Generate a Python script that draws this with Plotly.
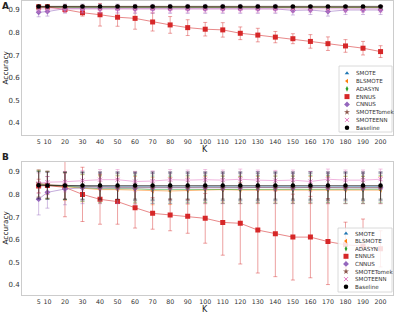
import plotly.graph_objects as go

K = [5, 10, 20, 30, 40, 50, 60, 70, 80, 90, 100, 110, 120, 130, 140, 150, 160, 170, 180, 190, 200]
K_TICKS = [5, 10, 20, 30, 40, 50, 60, 70, 80, 90, 100, 110, 120, 130, 140, 150, 160, 170, 180, 190, 200]
Y_TICKS = [0.4, 0.5, 0.6, 0.7, 0.8, 0.9]

METHODS = ["SMOTE", "BLSMOTE", "ADASYN", "ENNUS", "CNNUS", "SMOTETomek", "SMOTEENN", "Baseline"]

# ---- Panel A ----
SMOTE_A = [0.912, 0.913, 0.913, 0.912, 0.912, 0.912, 0.911, 0.911, 0.911, 0.911, 0.911,
           0.911, 0.910, 0.910, 0.910, 0.910, 0.910, 0.910, 0.910, 0.910, 0.910]
BLSMOTE_A = [0.914, 0.914, 0.914, 0.913, 0.913, 0.913, 0.913, 0.912, 0.912, 0.912, 0.912,
             0.912, 0.912, 0.912, 0.912, 0.912, 0.912, 0.912, 0.912, 0.912, 0.912]
ADASYN_A = [0.912, 0.912, 0.912, 0.911, 0.911, 0.911, 0.911, 0.911, 0.911, 0.911, 0.911,
            0.911, 0.911, 0.911, 0.911, 0.911, 0.911, 0.911, 0.911, 0.911, 0.911]
ENNUS_A = [0.914, 0.914, 0.902, 0.888, 0.879, 0.868, 0.863, 0.847, 0.834, 0.822, 0.815,
           0.812, 0.797, 0.789, 0.780, 0.773, 0.761, 0.751, 0.741, 0.731, 0.716]
CNNUS_A = [0.890, 0.893, 0.906, 0.906, 0.906, 0.906, 0.905, 0.905, 0.905, 0.905, 0.905,
           0.905, 0.905, 0.905, 0.905, 0.898, 0.900, 0.893, 0.900, 0.900, 0.900]
SMOTETOMEK_A = [0.913, 0.913, 0.913, 0.912, 0.912, 0.912, 0.912, 0.912, 0.912, 0.912, 0.912,
                0.912, 0.912, 0.912, 0.912, 0.912, 0.912, 0.912, 0.912, 0.912, 0.912]
SMOTEENN_A = [0.905, 0.905, 0.906, 0.905, 0.905, 0.905, 0.905, 0.905, 0.905, 0.905, 0.905,
              0.905, 0.905, 0.905, 0.905, 0.905, 0.905, 0.905, 0.905, 0.905, 0.905]
BASELINE_A = [0.916, 0.916, 0.916, 0.916, 0.916, 0.916, 0.916, 0.916, 0.916, 0.916, 0.916,
              0.916, 0.916, 0.916, 0.916, 0.916, 0.916, 0.916, 0.916, 0.916, 0.916]

ENNUS_A_ERR = [0.006, 0.008, 0.012, 0.015, 0.05, 0.04, 0.048, 0.04, 0.037, 0.035, 0.03,
               0.032, 0.028, 0.03, 0.025, 0.022, 0.03, 0.03, 0.028, 0.03, 0.026]
CNNUS_A_ERR = [0.02] * 21
SMOTEENN_A_ERR = [0.015] * 21
OTHER_A_ERR = [0.008] * 21
BASELINE_A_ERR = [0.004] * 21

# ---- Panel B ----
SMOTE_B = [0.845, 0.840, 0.838, 0.836, 0.835, 0.835, 0.835, 0.834, 0.835, 0.834, 0.835,
           0.834, 0.835, 0.834, 0.835, 0.834, 0.835, 0.834, 0.835, 0.834, 0.835]
BLSMOTE_B = [0.848, 0.842, 0.835, 0.828, 0.822, 0.822, 0.820, 0.815, 0.816, 0.818, 0.820,
             0.822, 0.820, 0.820, 0.822, 0.822, 0.820, 0.820, 0.820, 0.820, 0.820]
ADASYN_B = [0.845, 0.842, 0.838, 0.830, 0.826, 0.826, 0.826, 0.822, 0.822, 0.824, 0.825,
            0.822, 0.822, 0.824, 0.822, 0.822, 0.824, 0.825, 0.822, 0.822, 0.824]
ENNUS_B = [0.838, 0.840, 0.832, 0.801, 0.779, 0.769, 0.742, 0.717, 0.710, 0.704, 0.695,
           0.677, 0.673, 0.643, 0.627, 0.612, 0.612, 0.592, 0.578, 0.572, 0.560]
CNNUS_B = [0.780, 0.810, 0.825, 0.830, 0.830, 0.830, 0.828, 0.830, 0.830, 0.830, 0.830,
           0.830, 0.830, 0.832, 0.830, 0.830, 0.832, 0.830, 0.830, 0.830, 0.830]
SMOTETOMEK_B = [0.850, 0.845, 0.840, 0.836, 0.834, 0.833, 0.833, 0.832, 0.832, 0.832, 0.832,
                0.832, 0.832, 0.832, 0.832, 0.832, 0.832, 0.832, 0.832, 0.832, 0.832]
SMOTEENN_B = [0.850, 0.855, 0.857, 0.862, 0.866, 0.866, 0.858, 0.860, 0.866, 0.864, 0.866,
              0.864, 0.868, 0.864, 0.862, 0.864, 0.858, 0.868, 0.864, 0.864, 0.868]
BASELINE_B = [0.841, 0.840, 0.840, 0.840, 0.840, 0.840, 0.840, 0.840, 0.840, 0.840, 0.840,
              0.840, 0.840, 0.840, 0.840, 0.840, 0.840, 0.840, 0.840, 0.840, 0.840]

ENNUS_B_ERR = [0.03, 0.04, 0.13, 0.12, 0.11, 0.10, 0.09, 0.07, 0.07, 0.075, 0.11,
               0.145, 0.18, 0.19, 0.19, 0.19, 0.18, 0.19, 0.10, 0.12, 0.08]
CNNUS_B_ERR = [0.07] * 21
SMOTEENN_B_ERR = [0.045] * 21
OTHER_B_ERR = [0.06] * 21
BASELINE_B_ERR = [0.06] * 21

DATA_A = [SMOTE_A, BLSMOTE_A, ADASYN_A, ENNUS_A, CNNUS_A, SMOTETOMEK_A, SMOTEENN_A, BASELINE_A]
ERR_A = [OTHER_A_ERR, OTHER_A_ERR, OTHER_A_ERR, ENNUS_A_ERR, CNNUS_A_ERR, OTHER_A_ERR, SMOTEENN_A_ERR, BASELINE_A_ERR]
DATA_B = [SMOTE_B, BLSMOTE_B, ADASYN_B, ENNUS_B, CNNUS_B, SMOTETOMEK_B, SMOTEENN_B, BASELINE_B]
ERR_B = [OTHER_B_ERR, OTHER_B_ERR, OTHER_B_ERR, ENNUS_B_ERR, CNNUS_B_ERR, OTHER_B_ERR, SMOTEENN_B_ERR, BASELINE_B_ERR]

# ---- styles ----
COLORS = [(31, 119, 180), (255, 127, 14), (44, 160, 44), (214, 39, 40),
          (148, 103, 189), (140, 86, 75), (227, 119, 194), (0, 0, 0)]
SYMBOLS = ["triangle-up", "triangle-left", "diamond-tall", "square", "diamond",
           "star", "x-thin-open", "circle"]
SIZES = [4, 4, 4, 5, 4.5, 4.5, 4, 4.5]
FONT = "DejaVu Sans"
W, H = 400, 313


def rgba(c, a):
    return "rgba(%d,%d,%d,%.2f)" % (c[0], c[1], c[2], a)


fig = go.Figure()

for panel, (data, errs, xa, ya) in enumerate([(DATA_A, ERR_A, "x", "y"), (DATA_B, ERR_B, "x2", "y2")]):
    for i, name in enumerate(METHODS):
        c = COLORS[i]
        fig.add_trace(go.Scatter(
            x=K, y=data[i], xaxis=xa, yaxis=ya, mode="lines+markers", name=name,
            showlegend=False,
            line=dict(color=rgba(c, 0.55), width=1),
            marker=dict(symbol=SYMBOLS[i], size=SIZES[i], color=rgba(c, 1.0),
                        line=dict(color=rgba(c, 1.0), width=1 if "open" in SYMBOLS[i] else 0)),
            error_y=dict(type="data", array=errs[i], color=rgba(c, 0.55), thickness=0.8, width=2),
        ))

# ---- manual legends (pixel-space overlay axes) ----
LEG_BOX = [(339, 66, 392, 132), (338, 228, 392, 292)]
LEG_FIRST = [73.3, 233.5]
LEG_STEP = [7.77, 7.6]
annotations = []
for p in range(2):
    x0, y0, x1, y1 = LEG_BOX[p]
    fig.add_trace(go.Scatter(
        x=[x0, x1, x1, x0, x0], y=[y0, y0, y1, y1, y0], xaxis="x3", yaxis="y3",
        mode="lines", fill="toself", fillcolor="rgba(255,255,255,0.85)",
        line=dict(color="#d0d0d0", width=0.8), showlegend=False, hoverinfo="skip"))
    ys = [LEG_FIRST[p] + j * LEG_STEP[p] for j in range(len(METHODS))]
    for j, name in enumerate(METHODS):
        c = COLORS[j]
        fig.add_trace(go.Scatter(
            x=[x0 + 8], y=[ys[j]], xaxis="x3", yaxis="y3", mode="markers",
            marker=dict(symbol=SYMBOLS[j], size=SIZES[j], color=rgba(c, 1.0),
                        line=dict(color=rgba(c, 1.0), width=1 if "open" in SYMBOLS[j] else 0)),
            showlegend=False, hoverinfo="skip"))
        annotations.append(dict(x=x0 + 16, y=ys[j], xref="x3", yref="y3", text=name,
                                showarrow=False, xanchor="left", yanchor="middle", borderpad=0,
                                height=6,
                                font=dict(family=FONT, size=5.6, color="#333333")))

# ---- panel labels and axis titles ----
for txt, x, y, size, angle, bold, hgt in [
    ("A", 5, 6, 9, 0, True, None), ("B", 5, 157, 9, 0, True, None),
    ("Accuracy", 4.5, 68, 7.3, -90, False, None), ("Accuracy", 4.5, 228, 7.3, -90, False, None),
    ("K", 205, 149, 8, 0, False, 8), ("K", 205, 308.5, 8, 0, False, 8),
]:
    a = dict(x=x, y=y, xref="x3", yref="y3", text=("<b>%s</b>" % txt) if bold else txt,
             showarrow=False, textangle=angle, xanchor="center", yanchor="middle",
             borderpad=0, font=dict(family=FONT, size=size, color="#222222"))
    if hgt:
        a["height"] = hgt
    annotations.append(a)

XDOM = [22 / W, 393 / W]
common_x = dict(range=[-4.5, 207.1], tickmode="array", tickvals=K_TICKS, showgrid=False,
                zeroline=False, showline=True, mirror=True, linecolor="#cccccc", linewidth=1,
                ticks="", tickfont=dict(family=FONT, size=6.3, color="#333333"),
                automargin=False, fixedrange=True)
common_y = dict(tickmode="array", tickvals=Y_TICKS, tickformat=".1f", showgrid=False,
                zeroline=False, showline=True, mirror=True, linecolor="#cccccc", linewidth=1,
                ticks="", tickfont=dict(family=FONT, size=7, color="#333333"),
                automargin=False, fixedrange=True)

fig.update_layout(
    width=W, height=H, margin=dict(l=0, r=0, t=0, b=0),
    paper_bgcolor="white", plot_bgcolor="rgba(0,0,0,0)",
    showlegend=False,
    xaxis=dict(domain=XDOM, anchor="y", **common_x),
    yaxis=dict(domain=[1 - 135 / H, 1 - 1 / H], anchor="x", range=[0.347, 0.9398], **common_y),
    xaxis2=dict(domain=XDOM, anchor="y2", **common_x),
    yaxis2=dict(domain=[1 - 295 / H, 1 - 161.7 / H], anchor="x2", range=[0.3558, 0.9456], **common_y),
    xaxis3=dict(domain=[0, 1], anchor="y3", range=[0, W], visible=False, fixedrange=True),
    yaxis3=dict(domain=[0, 1], anchor="x3", range=[H, 0], visible=False, fixedrange=True),
    annotations=annotations,
)

fig.write_html(
    "out.html",
    config={"displayModeBar": False, "staticPlot": True},
    post_script="document.body.style.margin='0';document.body.style.padding='0';"
                "document.documentElement.style.margin='0';document.body.style.overflow='hidden';",
)
